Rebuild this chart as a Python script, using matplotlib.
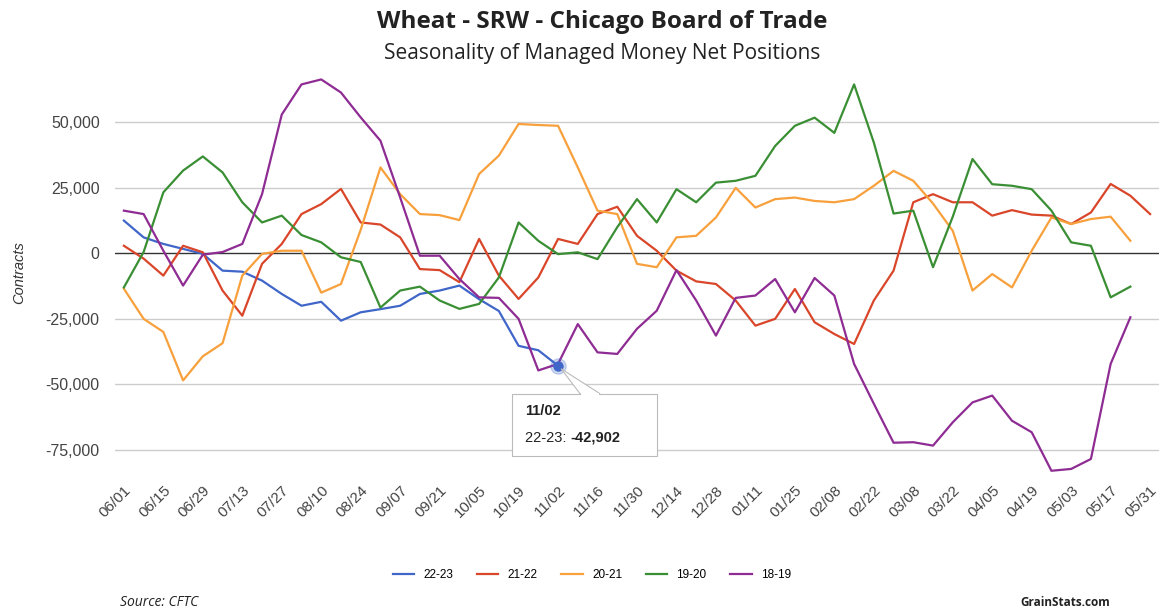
import matplotlib.pyplot as plt
import matplotlib.patches as mpatches
from matplotlib.transforms import IdentityTransform
import numpy as np

# week labels shown on the x axis (every other week)
tick_labels = ['06/01', '06/15', '06/29', '07/13', '07/27', '08/10', '08/24', '09/07', '09/21',
               '10/05', '10/19', '11/02', '11/16', '11/30', '12/14', '12/28', '01/11', '01/25',
               '02/08', '02/22', '03/08', '03/22', '04/05', '04/19', '05/03', '05/17', '05/31']

# managed money net positions (contracts), weekly from 06/01
s_22_23 = [12500, 6100, 3600, 1700, -200, -6600, -7000, -10400, -15500, -20000, -18500, -25700,
           -22500, -21300, -20000, -15500, -14200, -12300, -17500, -22000, -35300, -37000, -42902]
s_21_22 = [2900, -2000, -8500, 2900, 400, -14200, -23800, -4000, 3600, 15000, 18800, 24600,
           11800, 11000, 6100, -6000, -6400, -11000, 5500, -8500, -17400, -9200, 5500, 3600,
           15000, 17800, 6700, 1000, -6600, -10700, -11700, -18000, -27600, -25000, -13600,
           -26300, -30800, -34600, -18000, -6600, 19500, 22600, 19500, 19500, 14400, 16500,
           14800, 14400, 11200, 15600, 26500, 22000, 15000]
s_20_21 = [-13500, -25000, -30000, -48500, -39300, -34300, -8500, -200, 1000, 1000, -15000, -11700,
           9000, 32800, 22600, 15000, 14600, 12700, 30300, 37300, 49400, 49000, 48700, 32800,
           16300, 15000, -4000, -5300, 6100, 6700, 13700, 25000, 17500, 20700, 21300, 20000,
           19500, 20700, 25800, 31500, 27700, 19000, 8600, -14200, -7900, -13000, 1000, 13700,
           11200, 13100, 14000, 4800]
s_19_20 = [-13000, 500, 23300, 31600, 37000, 30900, 19500, 11800, 14400, 7000, 4200, -1500,
           -3300, -20700, -14200, -12700, -18000, -21200, -19300, -9200, 11800, 4800, -300, 400,
           -2200, 10000, 20700, 11800, 24500, 19500, 27000, 27700, 29600, 41000, 48700, 51800,
           46000, 64500, 42300, 15200, 16300, -5300, 14000, 36000, 26400, 25800, 24500, 16300,
           4200, 2900, -16800, -12700]
s_18_19 = [16300, 15000, 1000, -12300, -500, 500, 3600, 22600, 53000, 64500, 66400, 61400,
           51900, 43000, 21300, -900, -900, -9800, -16800, -17000, -25000, -44700, -42200, -27000,
           -37800, -38400, -28800, -21900, -6400, -18000, -31400, -17000, -16100, -9800, -22500,
           -9400, -16100, -42200, -57400, -72300, -72100, -73400, -64500, -56900, -54300, -63900,
           -68300, -83000, -82300, -78500, -42200, -24400]

series = [('22-23', s_22_23, '#3f66c8'), ('21-22', s_21_22, '#d9462a'),
          ('20-21', s_20_21, '#f7a03c'), ('19-20', s_19_20, '#3a8f34'),
          ('18-19', s_18_19, '#8e2c93')]

fig = plt.figure(figsize=(11.59, 6.14), dpi=100)
ax = fig.add_axes([115 / 1159, 1 - 476 / 614, 1 - 115 / 1159, 406 / 614])

for name, vals, col in series:
    ax.plot(np.arange(len(vals)), vals, color=col, lw=1.6, label=name, zorder=3)

ax.set_xlim(-0.45, 52.45)
ax.set_ylim(-85000, 70000)
yt = [-75000, -50000, -25000, 0, 25000, 50000]
ax.set_yticks(yt)
ax.set_yticklabels([f'{v:,}' for v in yt], fontsize=11.5, color='#444444', family='Liberation Sans')
for v in yt:
    if v == 0:
        ax.axhline(0, color='#333333', lw=1.0, zorder=2)
    else:
        ax.axhline(v, color='#cccccc', lw=1.0, zorder=1)
ax.set_xticks(np.arange(0, 53, 2))
ax.set_xticklabels(tick_labels, rotation=45, ha='right', va='top', fontsize=11,
                   color='#444444', family='Liberation Sans', rotation_mode='anchor')
ax.tick_params(length=0)
ax.tick_params(axis='x', pad=5)
ax.tick_params(axis='y', pad=11)
for sp in ax.spines.values():
    sp.set_visible(False)
ax.set_ylabel('Contracts', fontsize=10.5, style='italic', color='#333333', family='Liberation Sans')
ax.yaxis.set_label_coords(-0.085, 0.5)

fig.text(0.52, 1 - 22 / 614, 'Wheat - SRW - Chicago Board of Trade', ha='center', va='center',
         fontsize=17.5, fontweight='bold', color='#222222', family='Open Sans')
fig.text(0.52, 1 - 53 / 614, 'Seasonality of Managed Money Net Positions', ha='center', va='center',
         fontsize=15, color='#222222', family='Open Sans')

fig.legend(loc='center', bbox_to_anchor=(592 / 1159, 1 - 575 / 614), ncol=5, frameon=False,
           handlelength=1.8, columnspacing=2.0, prop={'family': 'Liberation Sans', 'size': 8.5})

fig.text(120 / 1159, 1 - 603 / 614, 'Source: CFTC', ha='left', va='center', fontsize=10,
         style='italic', color='#222222', family='Open Sans')
fig.text(1110 / 1159, 1 - 603 / 614, 'GrainStats.com', ha='right', va='center', fontsize=8.5,
         fontweight='bold', color='#222222', family='Open Sans')

# tooltip on the current season's latest point
pt_i = len(s_22_23) - 1
pt_v = s_22_23[-1]
ax.plot([pt_i], [pt_v], 'o', ms=11, color='#3f66c8', alpha=0.25, zorder=4)
ax.plot([pt_i], [pt_v], 'o', ms=6.5, color='#3f66c8', zorder=5)
fig.canvas.draw()
px, py = ax.transData.transform((pt_i, pt_v))
bx0, by0, bw, bh = px - 46, py - 28 - 62, 145, 62
tail = mpatches.Polygon([(px + 3, py - 3), (px + 22, by0 + bh), (px + 42, by0 + bh)],
                        closed=True, fc='white', ec='#bbbbbb', lw=0.8, transform=IdentityTransform())
box = mpatches.Rectangle((bx0, by0), bw, bh, fc='white', ec='#bbbbbb', lw=0.8,
                         transform=IdentityTransform())
fig.add_artist(box)
fig.add_artist(tail)
fig.add_artist(mpatches.Rectangle((px + 23, by0 + bh - 2), 18, 3, fc='white', ec='none',
                                  transform=IdentityTransform()))
fig.text(bx0 + 13, by0 + bh - 17, tick_labels[pt_i // 2], fontsize=10.5, fontweight='bold',
         color='#222222', va='center', family='Liberation Sans', transform=IdentityTransform())
t1 = fig.text(bx0 + 13, by0 + bh - 44, '22-23: ', fontsize=10.5, color='#222222', va='center',
              family='Liberation Sans', transform=IdentityTransform())
fig.canvas.draw()
ext = t1.get_window_extent()
fig.text(ext.x1, by0 + bh - 44, f'{pt_v:,}', fontsize=10.5, fontweight='bold', color='#222222',
         va='center', family='Liberation Sans', transform=IdentityTransform())

fig.savefig('out.png', dpi=100)
